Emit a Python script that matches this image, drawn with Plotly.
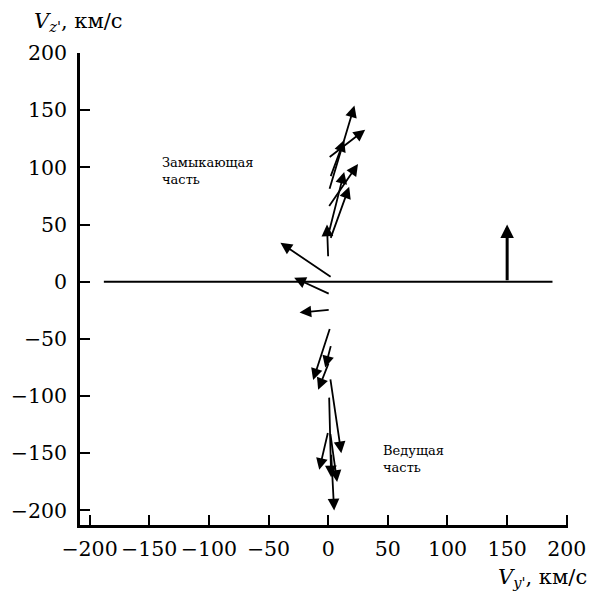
import plotly.graph_objects as go

# Arrow data (velocity components, km/s): tail -> tip
tail_vy = [0.8, 0.0, 1.7, 0.0, 0.8, 1.7, 0.0,
           3.3, 1.7, 1.7,
           1.7, 2.5, 0.8, 1.7, 0.8, 0.0, 1.7, 2.5]
tail_vz = [80, 108, 91, 65, 44, 37, 21,
           3.5, -11, -24.5,
           -40, -55, -70, -84, -100, -131, -132, -150]
tip_vy = [22, 31, 13.4, 25, 13.4, 17.6, -1,
          -40, -28.5, -24,
          -12.6, -2.5, -8.4, 11, 2.5, -7.5, 7.5, 5]
tip_vz = [154, 133, 124, 103, 96, 83, 50,
          34, 3.5, -27,
          -86, -75, -94.5, -150, -171, -164.5, -175, -200]

# Reference arrow
ref_vy = [150]
ref_vz0 = [0]
ref_vz1 = [50]

# Baseline
base_vy = [-188, 188]
base_vz = [0, 0]

# Ticks
x_ticks = [-200, -150, -100, -50, 0, 50, 100, 150, 200]
y_ticks = [-200, -150, -100, -50, 0, 50, 100, 150, 200]

# Text labels
labels = ["Замыкающая<br>часть", "Ведущая<br>часть"]
label_vy = [-141, 44]
label_vz = [97, -155]

FONT = "DejaVu Serif"

fig = go.Figure()
fig.add_trace(go.Scatter(x=base_vy, y=base_vz, mode="lines",
                         line=dict(color="black", width=2), hoverinfo="skip",
                         showlegend=False))

annotations = []
for tx, tz, hx, hz in zip(tail_vy, tail_vz, tip_vy, tip_vz):
    annotations.append(dict(x=hx, y=hz, ax=tx, ay=tz, xref="x", yref="y",
                            axref="x", ayref="y", text="", showarrow=True,
                            arrowhead=2, arrowsize=1.3, arrowwidth=1.8,
                            arrowcolor="black", standoff=0, startstandoff=0))
for vx, z0, z1 in zip(ref_vy, ref_vz0, ref_vz1):
    annotations.append(dict(x=vx, y=z1, ax=vx, ay=z0, xref="x", yref="y",
                            axref="x", ayref="y", text="", showarrow=True,
                            arrowhead=2, arrowsize=0.9, arrowwidth=3,
                            arrowcolor="black", standoff=0))
for t, vx, vz in zip(labels, label_vy, label_vz):
    annotations.append(dict(x=vx, y=vz, xref="x", yref="y", text=t,
                            showarrow=False, xanchor="left", yanchor="middle",
                            align="left",
                            font=dict(family=FONT, size=13, color="black")))

annotations.append(dict(x=32, y=22, xref="paper", yref="paper",
                        text="<i>V</i><sub><i>z'</i></sub>, км/с",
                        showarrow=False, xanchor="left", yanchor="middle",
                        font=dict(family=FONT, size=21, color="black")))
annotations.append(dict(x=589, y=578, xref="paper", yref="paper",
                        text="<i>V</i><sub><i>y'</i></sub>, км/с",
                        showarrow=False, xanchor="right", yanchor="middle",
                        font=dict(family=FONT, size=21, color="black")))

# convert pixel positions of axis titles to paper coords
W, H = 589, 592
L, R, T, B = 80, 21, 53, 67
pw, ph = W - L - R, H - T - B
for a in annotations[-2:]:
    a["x"] = (a["x"] - L) / pw
    a["y"] = (H - B - a["y"]) / ph

fig.update_layout(
    width=W, height=H,
    margin=dict(l=L, r=R, t=T, b=B, pad=0, autoexpand=False),
    plot_bgcolor="white", paper_bgcolor="white",
    font=dict(family=FONT, size=20, color="black"),
    annotations=annotations,
    showlegend=False,
    xaxis=dict(range=[-208, 201], tickvals=x_ticks, ticks="inside",
               ticklen=10, tickwidth=2, tickcolor="black",
               showline=True, linecolor="black", linewidth=2.5,
               showgrid=False, zeroline=False, ticklabelstandoff=4,
               tickfont=dict(family=FONT, size=20.5, color="black"),
               automargin=False, fixedrange=True),
    yaxis=dict(range=[-212.7, 200], tickvals=y_ticks, ticks="inside",
               ticklen=10, tickwidth=2, tickcolor="black",
               showline=True, linecolor="black", linewidth=2.5,
               showgrid=False, zeroline=False, ticklabelstandoff=6,
               tickfont=dict(family=FONT, size=20.5, color="black"),
               automargin=False, fixedrange=True),
)

fig.write_html("out.html")
